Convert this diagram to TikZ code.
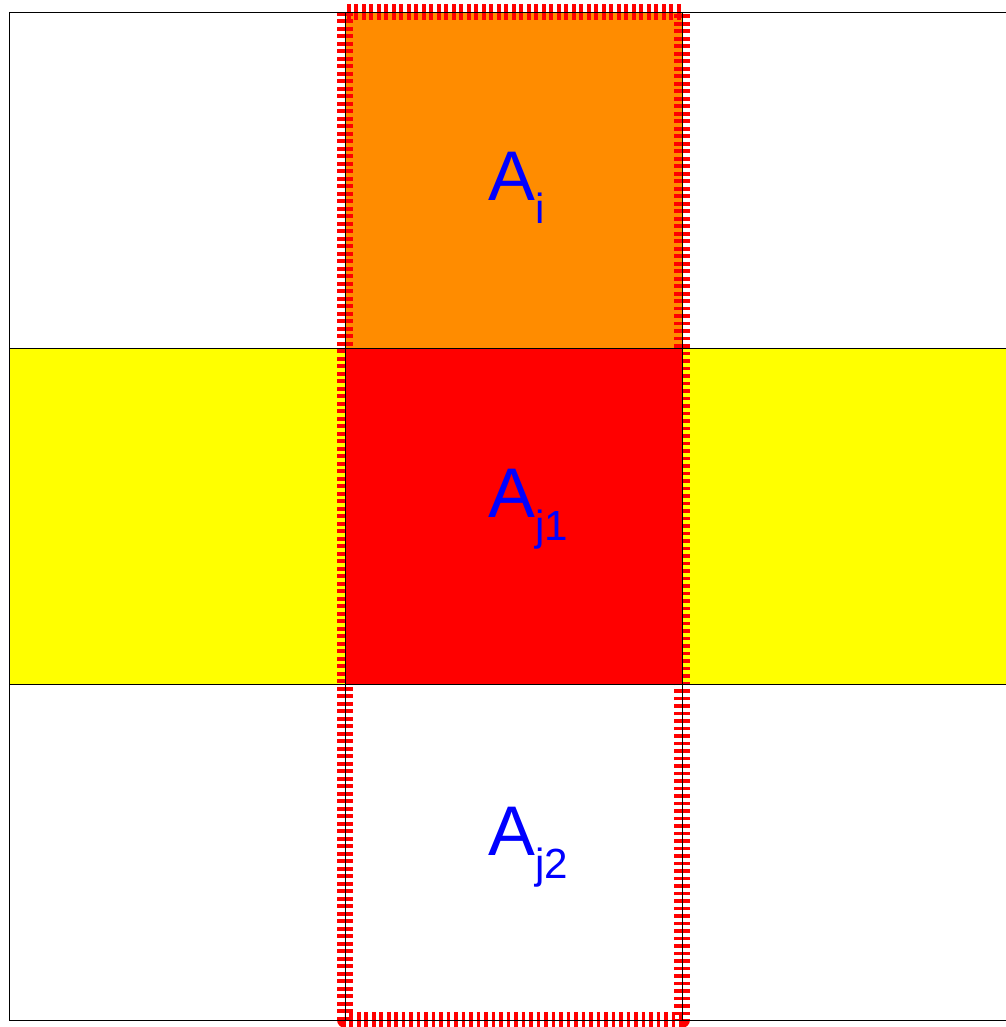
\documentclass[tikz,border=0pt]{standalone}
\usepackage{fontspec}
\setmainfont{Liberation Sans}
\definecolor{cellorange}{RGB}{255,140,0}
\definecolor{cellyellow}{RGB}{255,255,0}
\definecolor{cellred}{RGB}{255,0,0}
\tikzset{
  cell label/.style={anchor=base west, inner sep=0pt, text=blue,
    font=\fontsize{40}{40}\selectfont},
}
\newcommand{\lowsub}[1]{\raisebox{-0.33em}{\fontsize{24}{24}\selectfont #1}}
\begin{document}
\begin{tikzpicture}[x=0.02cm,y=-0.02cm]
      \useasboundingbox (0,0) rectangle (1005,1027);
      % coloured cells
      \fill[cellyellow] (9,348) rectangle (1018,684);
      \fill[cellorange] (345,12) rectangle (682,348);
      \fill[cellred] (345,348) rectangle (682,684);
      % selected column
      \draw[cellred, line width=0.31cm, dash pattern=on 0.075cm off 0.075cm,
            line join=round] (345,12) rectangle (682,1020);
      % grid
      \foreach \y in {12,348,684,1020}
        \draw[line width=0.5pt] (9,\y) -- (1018,\y);
      \foreach \x in {9,345,682}
        \draw[line width=0.5pt] (\x,12) -- (\x,1020);
      \node[cell label] (ai)  at (488,200) {A\lowsub{i}};
      \node[cell label] (aj1) at (488,517) {A\lowsub{j1}};
      \node[cell label] (aj2) at (488,855) {A\lowsub{j2}};
    \end{tikzpicture}
\end{document}
